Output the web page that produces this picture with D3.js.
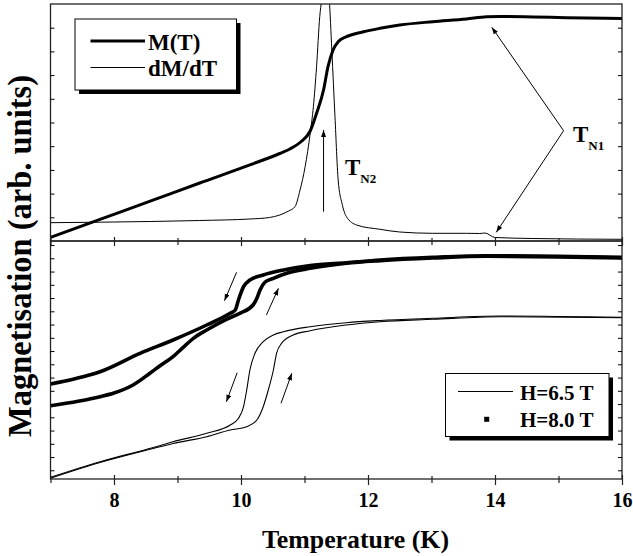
<!DOCTYPE html>
<html>
<head>
<meta charset="utf-8">
<script src="https://cdnjs.cloudflare.com/ajax/libs/d3/7.8.5/d3.min.js"></script>
<style>
  body { margin: 0; background: #fff; }
  svg { display: block; font-family: "Liberation Serif", "Times New Roman", serif; font-weight: bold; }
</style>
</head>
<body>
<div id="chart"></div>
<script>
// top panel: M(T) and dM/dT (arb. units)
const tempM = [7.0, 7.78, 8.57, 9.35, 10.14, 10.61, 10.77, 10.93, 11.09, 11.19, 11.30, 11.37, 11.45, 11.53, 11.66, 11.93, 12.19, 12.5, 13.02, 13.55, 13.87, 14.08, 14.6, 15.12, 16.0];
const magM = [3.7, 21.7, 39.8, 58, 76.1, 87.5, 92, 98.5, 110, 127.7, 151, 174.3, 191, 199.3, 204.3, 209.3, 212.7, 216, 219.3, 222, 224.3, 224.5, 224, 223.3, 222.5];

const tempD = [7.0, 8.57, 9.35, 10.14, 10.45, 10.61, 10.75, 10.85, 10.93, 11.01, 11.09, 11.14, 11.19, 11.24, 11.27, 11.33, 11.39, 11.43, 11.48, 11.53, 11.59, 11.66, 11.82, 12.19, 12.5, 13.02, 13.55, 13.76, 13.84, 14.0, 14.6, 16.0];
const derivD = [18.3, 19.5, 20.5, 22, 23.5, 26, 30, 34.3, 51, 74.3, 107.7, 134.3, 174.3, 224.3, 241, 265, 241, 191, 124.3, 61, 37.7, 24.3, 16, 11.7, 9, 7.7, 7.7, 7.5, 8, 3.5, 2.5, 1.7];

// bottom panel: cooling / warming at 8.0 T and 6.5 T
const tempCool80 = [7.0, 7.4, 7.78, 8.41, 8.93, 9.46, 9.83, 9.91, 9.96, 10.04, 10.14, 10.35, 10.67, 11.09, 11.66, 12.19, 13.02, 13.87, 16.0];
const magCool80 = [95, 100.5, 107.3, 125.7, 139, 154, 165.7, 169, 179, 192.3, 199, 204, 209, 213.5, 216.3, 219, 221.7, 223.3, 221.7];

const tempWarm80 = [7.0, 7.78, 8.0, 8.30, 8.57, 8.72, 8.93, 9.09, 9.25, 9.46, 9.77, 9.98, 10.19, 10.25, 10.30, 10.38, 10.51, 10.72, 11.09, 11.66, 12.19, 13.02, 13.87, 16.0];
const magWarm80 = [73.3, 82.3, 86, 94, 106, 113, 122.3, 131.7, 140.7, 149, 159.7, 165.7, 174, 180.7, 189, 197, 200.7, 205.7, 210.7, 215.7, 218.3, 221, 222.7, 221];

const tempCool65 = [7.0, 7.78, 8.62, 8.93, 9.46, 9.83, 9.96, 10.04, 10.09, 10.14, 10.22, 10.35, 10.51, 10.67, 11.09, 11.66, 12.19, 13.02, 14.08, 16.0];
const magCool65 = [1.7, 17.3, 31.5, 37.3, 45.7, 54, 60.7, 72.3, 89, 109, 125.7, 137.3, 144, 147.3, 152.3, 156.3, 158.5, 160.7, 163, 161.7];

const tempWarm65 = [7.0, 7.78, 8.62, 8.93, 9.46, 9.83, 10.09, 10.25, 10.35, 10.43, 10.51, 10.56, 10.64, 10.82, 11.09, 11.66, 12.19, 13.02, 14.08, 16.0];
const magWarm65 = [0.8, 16.5, 30.5, 35.5, 42.3, 49, 52.3, 59, 72.3, 89, 109, 125.7, 135.7, 144, 148.3, 154, 157.3, 159.7, 162.3, 161.3];

const majorTicks = [8, 10, 12, 14, 16];
const minorTicks = [7, 9, 11, 13, 15];

// arrows [T0, v0, T1, v1], head at the second point
const arrowsTop = [[11.30, 29.3, 11.30, 111], [15.08, 110.3, 13.95, 213.7], [15.08, 110.3, 14.02, 8.7]];
const arrowsBottom = [[9.93, 206.7, 9.74, 178.3], [10.40, 164, 10.59, 190.7], [9.94, 106.3, 9.77, 77.3], [10.63, 75.7, 10.80, 105.7]];

const W = 633, H = 556;
const plotLeft = 50.5, plotRight = 622, plotTop = 4, plotMid = 241, plotBottom = 479;

const svg = d3.select("#chart").append("svg").attr("width", W).attr("height", H);

const x = d3.scaleLinear().domain([7, 16]).range([plotLeft, plotRight]);
const yTop = d3.scaleLinear().domain([0, 237]).range([plotMid, plotTop]);
const yBot = d3.scaleLinear().domain([0, 238]).range([plotBottom, plotMid]);

const defs = svg.append("defs");
defs.append("clipPath").attr("id", "clipTop").append("rect")
  .attr("x", plotLeft).attr("y", plotTop).attr("width", plotRight - plotLeft).attr("height", plotMid - plotTop);
defs.append("clipPath").attr("id", "clipBot").append("rect")
  .attr("x", plotLeft).attr("y", plotMid).attr("width", plotRight - plotLeft).attr("height", plotBottom - plotMid);
defs.append("marker").attr("id", "head")
  .attr("markerUnits", "userSpaceOnUse")
  .attr("markerWidth", 8).attr("markerHeight", 6)
  .attr("refX", 7).attr("refY", 2.5).attr("orient", "auto")
  .append("path").attr("d", "M0,0 L7,2.5 L0,5 Z").attr("fill", "#000");

function zipXY(ts, vs) {
  return ts.map((t, i) => [t, vs[i]]);
}

function drawCurve(g, ts, vs, yScale, width) {
  const line = d3.line().x((d) => x(d[0])).y((d) => yScale(d[1])).curve(d3.curveMonotoneX);
  g.append("path")
    .attr("d", line(zipXY(ts, vs)))
    .attr("fill", "none")
    .attr("stroke", "#000")
    .attr("stroke-width", width)
    .attr("stroke-linejoin", "round");
}

function drawArrows(g, arrows, yScale) {
  g.selectAll(null)
    .data(arrows)
    .enter()
    .append("line")
    .attr("x1", (d) => x(d[0])).attr("y1", (d) => yScale(d[1]))
    .attr("x2", (d) => x(d[2])).attr("y2", (d) => yScale(d[3]))
    .attr("stroke", "#000").attr("stroke-width", 1)
    .attr("marker-end", "url(#head)");
}

// curves
const gTop = svg.append("g").attr("clip-path", "url(#clipTop)");
drawCurve(gTop, tempD, derivD, yTop, 1);
drawCurve(gTop, tempM, magM, yTop, 3);
drawArrows(gTop, arrowsTop, yTop);

const gBot = svg.append("g").attr("clip-path", "url(#clipBot)");
drawCurve(gBot, tempCool65, magCool65, yBot, 1.1);
drawCurve(gBot, tempWarm65, magWarm65, yBot, 1.1);
drawCurve(gBot, tempCool80, magCool80, yBot, 3.6);
drawCurve(gBot, tempWarm80, magWarm80, yBot, 3.6);
drawArrows(gBot, arrowsBottom, yBot);

// frames
[[plotTop, plotMid], [plotMid, plotBottom]].forEach(([y0, y1]) => {
  svg.append("rect")
    .attr("x", plotLeft).attr("y", y0).attr("width", plotRight - plotLeft).attr("height", y1 - y0)
    .attr("fill", "none").attr("stroke", "#222").attr("stroke-width", 1.3);
});

// y minor ticks (no labels), inward on both sides
function addYTicks(yScale, values) {
  svg.append("g").attr("transform", `translate(${plotLeft},0)`)
    .call(d3.axisLeft(yScale).tickValues(values).tickSize(-4).tickFormat(""))
    .call((g) => g.select(".domain").remove());
  svg.append("g").attr("transform", `translate(${plotRight},0)`)
    .call(d3.axisRight(yScale).tickValues(values).tickSize(-4).tickFormat(""))
    .call((g) => g.select(".domain").remove());
}
addYTicks(yTop, d3.range(1, 10).map((k) => 23.7 * k));
addYTicks(yBot, d3.range(0, 18).map((k) => 8.7 + 13.25 * k));

// x ticks: crossing the divider and the bottom axis
function addXTicks(yPos, values, up, down, labels) {
  const g = svg.append("g").attr("transform", `translate(0,${yPos})`)
    .call(d3.axisBottom(x).tickValues(values).tickSize(down).tickFormat(labels ? d3.format("d") : ""));
  g.select(".domain").remove();
  g.selectAll(".tick line").attr("y1", -up).attr("stroke", "#222").attr("stroke-width", 1.2);
  g.selectAll(".tick text")
    .attr("y", 28).attr("dy", 0)
    .attr("fill", "#000")
    .style("font-size", "20px")
    .style("font-family", "Liberation Serif, serif")
    .style("font-weight", "bold");
}
addXTicks(plotBottom, majorTicks, 4, 6, true);
addXTicks(plotBottom, minorTicks, 3, 4, false);
addXTicks(plotMid, majorTicks, 4, 5, false);
addXTicks(plotMid, minorTicks, 3, 4, false);

// axis titles
svg.append("text")
  .attr("x", 355.5).attr("y", 548)
  .attr("text-anchor", "middle")
  .attr("textLength", 187).attr("lengthAdjust", "spacingAndGlyphs")
  .style("font-size", "26px")
  .text("Temperature (K)");

svg.append("text")
  .attr("transform", "translate(31,256) rotate(-90)")
  .attr("text-anchor", "middle")
  .attr("textLength", 362).attr("lengthAdjust", "spacingAndGlyphs")
  .style("font-size", "33px")
  .text("Magnetisation (arb. units)");

// legends
function legendBox(x0, y0, w, h) {
  svg.append("rect").attr("x", x0 + 4).attr("y", y0 + 4).attr("width", w).attr("height", h).attr("fill", "#000");
  svg.append("rect").attr("x", x0).attr("y", y0).attr("width", w).attr("height", h)
    .attr("fill", "#fff").attr("stroke", "#000").attr("stroke-width", 1);
}

legendBox(75, 19, 161.5, 71);
svg.append("line").attr("x1", 90.5).attr("x2", 145).attr("y1", 41).attr("y2", 41).attr("stroke", "#000").attr("stroke-width", 3);
svg.append("line").attr("x1", 90.5).attr("x2", 145).attr("y1", 67.5).attr("y2", 67.5).attr("stroke", "#000").attr("stroke-width", 1);
svg.append("text").attr("x", 148).attr("y", 49.5).style("font-size", "23px").text("M(T)");
svg.append("text").attr("x", 148).attr("y", 75.5).style("font-size", "23px").text("dM/dT");

legendBox(445.5, 373.5, 163.5, 63);
svg.append("line").attr("x1", 458).attr("x2", 513).attr("y1", 391.5).attr("y2", 391.5).attr("stroke", "#000").attr("stroke-width", 1);
svg.append("rect").attr("x", 484.2).attr("y", 416.8).attr("width", 5).attr("height", 5).attr("fill", "#000");
svg.append("text").attr("x", 520).attr("y", 399.5).style("font-size", "21px").text("H=6.5 T");
svg.append("text").attr("x", 520).attr("y", 427).style("font-size", "21px").text("H=8.0 T");

// transition labels
function transitionLabel(x0, y0, sub) {
  const t = svg.append("text").attr("x", x0).attr("y", y0).style("font-size", "23px");
  t.append("tspan").text("T");
  t.append("tspan").attr("dy", 8).style("font-size", "13px").text(sub);
}
transitionLabel(345, 175, "N2");
transitionLabel(573, 141.5, "N1");
</script>
</body>
</html>
